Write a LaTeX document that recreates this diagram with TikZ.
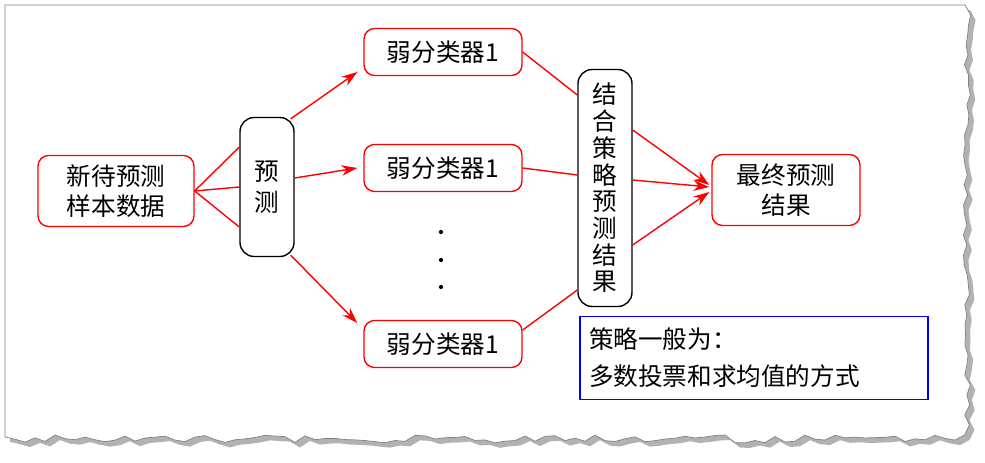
\documentclass[tikz,border=0pt]{standalone}
\usepackage{fontspec}
\setmainfont{Noto Sans CJK SC}
\usetikzlibrary{arrows.meta, positioning, calc}
\tikzset{
    redbox/.style={rectangle, draw=red, thick, rounded corners=6pt, fill=white, align=center, font=\fontsize{14}{17}\selectfont},
    blackbox/.style={rectangle, draw=black, thick, rounded corners=8pt, fill=white, align=center, font=\fontsize{14}{18}\selectfont},
    arrow/.style={red, thick, -{Stealth[length=9pt, width=6pt]}},
    link/.style={red, thick}
}
\begin{document}
\begin{tikzpicture}[x=0.02cm, y=-0.02cm]
    \useasboundingbox (0,0) rectangle (985,463);
    \pgfmathsetseed{11}

    % Torn frame with shadow
    \fill[gray!60] (10,10) -- (970,10)
        \foreach \y in {20,30,...,440} {-- ({968+8*rnd},\y)}
        \foreach \x in {960,950,...,10} {-- (\x,{440+8*rnd})} -- cycle;
    \pgfmathsetseed{11}
    \filldraw[fill=white, draw=gray] (5,5) -- (965,5)
        \foreach \y in {15,25,...,435} {-- ({963+8*rnd},\y)}
        \foreach \x in {955,945,...,5} {-- (\x,{435+8*rnd})} -- cycle;

    % Nodes
    \node (sample) [redbox, minimum width=3.12cm, minimum height=1.42cm] at (116,191) {新待预测\\样本数据};
    \node (predict) [blackbox, minimum width=1.08cm, minimum height=2.78cm] at (267,187) {预\\测};
    \node (weakA) [redbox, minimum width=3.16cm, minimum height=0.94cm] at (443,52) {弱分类器1};
    \node (weakB) [redbox, minimum width=3.16cm, minimum height=0.94cm] at (443,168) {弱分类器1};
    \node (weakC) [redbox, minimum width=3.16cm, minimum height=0.94cm] at (443,344) {弱分类器1};
    \node (combine) [blackbox, minimum width=1.08cm, minimum height=4.74cm, font=\fontsize{14}{15.2}\selectfont] at (605,188) {结\\合\\策\\略\\预\\测\\结\\果};
    \node (final) [redbox, minimum width=2.96cm, minimum height=1.42cm] at (786,190) {最终预测\\结果};
    \node (note) [draw=blue, thick, minimum width=6.96cm, minimum height=1.66cm, text width=6.6cm, align=left, font=\fontsize{14}{21}\selectfont] at (754,358) {策略一般为：\\多数投票和求均值的方式};
    \foreach \y in {232,260,287} \fill (441,\y) circle (1.2pt);

    % Arrows
    \draw [link] (sample.east) -- ($(predict.west)+(0,-40)$);
    \draw [link] (sample.east) -- (predict.west);
    \draw [link] (sample.east) -- ($(predict.west)+(0,40)$);
    \draw [arrow] ($(predict.north east)+(-4,2)$) -- ($(weakA.west)+(-6,20)$);
    \draw [arrow] ($(predict.east)+(0,-9)$) -- ($(weakB.west)+(-6,0)$);
    \draw [arrow] ($(predict.south east)+(-4,-2)$) -- ($(weakC.west)+(-6,-21)$);
    \draw [link] (weakA.east) -- ($(combine.west)+(0,-93)$);
    \draw [link] (weakB.east) -- ($(combine.west)+(0,-13)$);
    \draw [link] ($(weakC.east)+(0,-14)$) -- ($(combine.west)+(0,102)$);
    \draw [arrow] ($(combine.east)+(0,-58)$) -- ($(final.west)+(-2,-5)$);
    \draw [arrow] ($(combine.east)+(0,-8)$) -- ($(final.west)+(-2,-3)$);
    \draw [arrow] ($(combine.east)+(0,57)$) -- ($(final.west)+(-2,2)$);

\end{tikzpicture}
\end{document}
